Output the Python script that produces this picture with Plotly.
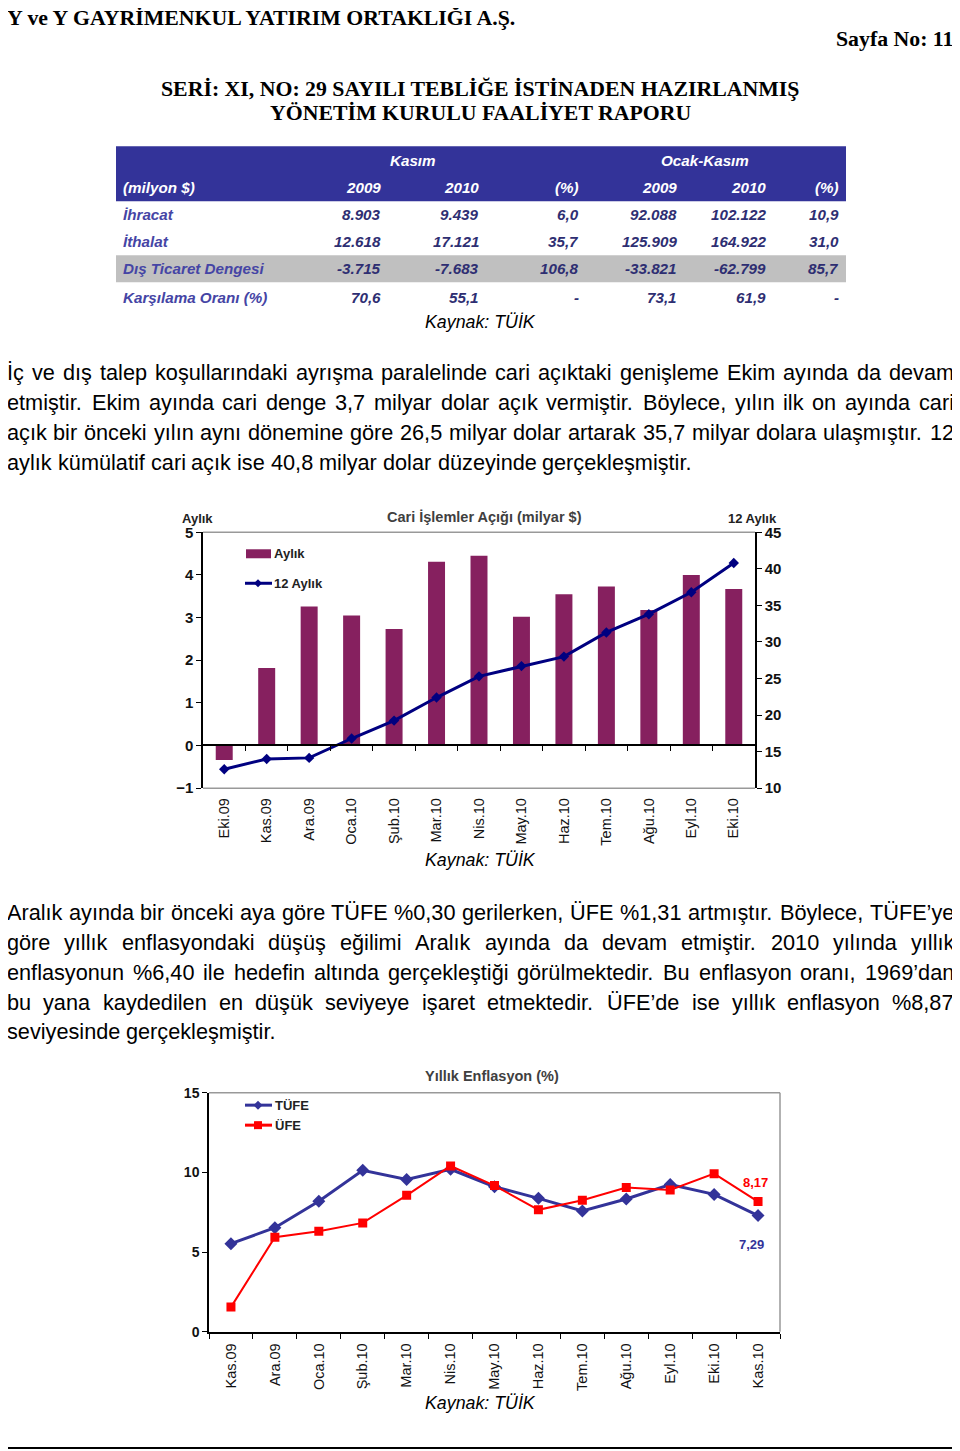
import plotly.graph_objects as go

# The page body adds an 8px margin; the photographed page also shows a slight vertical
# compression, so page pixels are mapped through a small correction.
OFF = 8
W, H = 960 - OFF, 1451
VA, VB = 8.7, 0.9885


def px(x):
    return (x - OFF) / W


def py(y):
    return 1 - ((y - VA) / VB - OFF) / H


SANS = "Liberation Sans, Arial, sans-serif"
SERIF = "Liberation Serif, Times New Roman, serif"

# ---------------- data ----------------
# trade table
table_groups = ["Kasım", "Ocak-Kasım"]
table_cols = ["2009", "2010", "(%)", "2009", "2010", "(%)"]
table_row_labels = ["İhracat", "İthalat", "Dış Ticaret Dengesi", "Karşılama Oranı (%)"]
row_ihracat = ["8.903", "9.439", "6,0", "92.088", "102.122", "10,9"]
row_ithalat = ["12.618", "17.121", "35,7", "125.909", "164.922", "31,0"]
row_denge = ["-3.715", "-7.683", "106,8", "-33.821", "-62.799", "85,7"]
row_karsilama = ["70,6", "55,1", "-", "73,1", "61,9", "-"]

# current account chart
ca_months = ["Eki.09", "Kas.09", "Ara.09", "Oca.10", "Şub.10", "Mar.10", "Nis.10",
             "May.10", "Haz.10", "Tem.10", "Ağu.10", "Eyl.10", "Eki.10"]
ca_monthly = [-0.34, 1.82, 3.26, 3.05, 2.73, 4.31, 4.45, 3.02, 3.55, 3.73, 3.18, 4.00, 3.67]
ca_12m = [12.6, 14.0, 14.15, 16.8, 19.25, 22.4, 25.3, 26.7, 28.0, 31.3, 33.8, 36.8, 40.8]

# inflation chart
inf_months = ["Kas.09", "Ara.09", "Oca.10", "Şub.10", "Mar.10", "Nis.10", "May.10",
              "Haz.10", "Tem.10", "Ağu.10", "Eyl.10", "Eki.10", "Kas.10"]
tufe = [5.53, 6.53, 8.19, 10.13, 9.56, 10.19, 9.10, 8.37, 7.58, 8.33, 9.24, 8.62, 7.29]
ufe = [1.55, 5.93, 6.31, 6.83, 8.56, 10.40, 9.17, 7.65, 8.25, 9.05, 8.90, 9.92, 8.17]

para1 = [
    "İç ve dış talep koşullarındaki ayrışma paralelinde cari açıktaki genişleme Ekim ayında da devam",
    "etmiştir. Ekim ayında cari denge 3,7 milyar dolar açık vermiştir. Böylece, yılın ilk on ayında cari",
    "açık bir önceki yılın aynı dönemine göre 26,5 milyar dolar artarak 35,7 milyar dolara ulaşmıştır. 12",
    "aylık kümülatif cari açık ise 40,8 milyar dolar düzeyinde gerçekleşmiştir.",
]
para2 = [
    "Aralık ayında bir önceki aya göre TÜFE %0,30 gerilerken, ÜFE %1,31 artmıştır. Böylece, TÜFE’ye",
    "göre yıllık enflasyondaki düşüş eğilimi Aralık ayında da devam etmiştir. 2010 yılında yıllık",
    "enflasyonun %6,40 ile hedefin altında gerçekleştiği görülmektedir. Bu enflasyon oranı, 1969’dan",
    "bu yana kaydedilen en düşük seviyeye işaret etmektedir. ÜFE’de ise yıllık enflasyon %8,87",
    "seviyesinde gerçekleşmiştir.",
]

BAR = "#86205F"
NAVY = "#000080"
BLUE2 = "#333399"
RED = "#FF0000"
TBLUE = "#333399"

# ---------------- figure ----------------
fig = go.Figure()

fig.add_trace(go.Bar(x=ca_months, y=ca_monthly, xaxis="x", yaxis="y", width=0.4,
                     marker=dict(color=BAR, line=dict(width=0)), name="Aylık",
                     showlegend=False, hoverinfo="skip"))
fig.add_trace(go.Scatter(x=ca_months, y=ca_12m, xaxis="x", yaxis="y2", mode="lines+markers",
                         line=dict(color=NAVY, width=3),
                         marker=dict(symbol="diamond", size=8, color=NAVY),
                         name="12 Aylık", showlegend=False, hoverinfo="skip"))
# invisible helper on the zero-line tick axis
fig.add_trace(go.Scatter(x=[0], y=[0], xaxis="x3", yaxis="y", mode="markers",
                         marker=dict(opacity=0), showlegend=False, hoverinfo="skip"))

fig.add_trace(go.Scatter(x=inf_months, y=tufe, xaxis="x2", yaxis="y3", mode="lines+markers",
                         line=dict(color=BLUE2, width=3),
                         marker=dict(symbol="diamond", size=10, color=BLUE2),
                         name="TÜFE", showlegend=False, hoverinfo="skip"))
fig.add_trace(go.Scatter(x=inf_months, y=ufe, xaxis="x2", yaxis="y3", mode="lines+markers",
                         line=dict(color=RED, width=2),
                         marker=dict(symbol="square", size=9, color=RED),
                         name="ÜFE", showlegend=False, hoverinfo="skip"))

# ---------------- annotations ----------------
anns = []


def ann(x, y, text, size, color="black", family=SANS, xanchor="left", yanchor="middle"):
    anns.append(dict(x=px(x), y=py(y), xref="paper", yref="paper", text=text,
                     showarrow=False, xanchor=xanchor, yanchor=yanchor,
                     font=dict(family=family, size=size, color=color)))


# header
ann(5, 18, "<b>Y ve Y GAYRİMENKUL YATIRIM ORTAKLIĞI A.Ş.</b>", 21.8, family=SERIF)
ann(955, 39, "<b>Sayfa No: 11</b>", 21.8, family=SERIF, xanchor="right")
ann(480, 89, "<b>SERİ: XI, NO: 29 SAYILI TEBLİĞE İSTİNADEN HAZIRLANMIŞ</b>", 21.8,
    family=SERIF, xanchor="center")
ann(480, 113, "<b>YÖNETİM KURULU FAALİYET RAPORU</b>", 21.8, family=SERIF, xanchor="center")

# table
TF = 15.2
shapes = []
shapes.append(dict(type="rect", xref="paper", yref="paper", x0=px(116), x1=px(846),
                   y0=py(201), y1=py(146), fillcolor=TBLUE, line=dict(width=0), layer="below"))
shapes.append(dict(type="rect", xref="paper", yref="paper", x0=px(116), x1=px(846),
                   y0=py(282), y1=py(255), fillcolor="#C0C0C0", line=dict(width=0), layer="below"))
col_right = [383, 481, 581, 679, 768, 841]
group_center = [413, 705]
for g, cx in zip(table_groups, group_center):
    ann(cx, 160, f"<b><i>{g}</i></b>", TF, color="white", xanchor="center")
ann(121, 187, "<b><i>(milyon $)</i></b>", TF, color="white")
for c, rx in zip(table_cols, col_right):
    ann(rx, 187, f"<b><i>{c}</i></b>", TF, color="white", xanchor="right")
row_ys = [214, 241, 268, 297]
for lab, vals, ry in zip(table_row_labels,
                         [row_ihracat, row_ithalat, row_denge, row_karsilama], row_ys):
    ann(121, ry, f"<b><i>{lab}</i></b>", TF, color="#4545A5")
    for v, rx in zip(vals, col_right):
        ann(rx, ry, f"<b><i>{v}</i></b>", TF, color="#2E2E72", xanchor="right")
ann(480, 322, "<i>Kaynak: TÜİK</i>", 17.8, xanchor="center")

# justified body text (Arial / Liberation Sans metrics, 1/1000 em)
AW = {" ": 278, "!": 278, "%": 889, "’": 222, "'": 191, "(": 333, ")": 333, ",": 278,
      "-": 333, ".": 278, "/": 278, ":": 278, "$": 556,
      "A": 667, "B": 667, "C": 722, "D": 722, "E": 667, "F": 611, "G": 778, "H": 722,
      "I": 278, "J": 500, "K": 667, "L": 556, "M": 833, "N": 722, "O": 778, "P": 667,
      "Q": 778, "R": 722, "S": 667, "T": 611, "U": 722, "V": 667, "W": 944, "X": 667,
      "Y": 667, "Z": 611, "İ": 278, "Ü": 722, "Ö": 778, "Ç": 722, "Ş": 667, "Ğ": 778,
      "a": 556, "b": 556, "c": 500, "d": 556, "e": 556, "f": 278, "g": 556, "h": 556,
      "i": 222, "j": 222, "k": 500, "l": 222, "m": 833, "n": 556, "o": 556, "p": 556,
      "q": 556, "r": 333, "s": 500, "t": 278, "u": 556, "v": 500, "w": 722, "x": 500,
      "y": 500, "z": 500, "ı": 278, "ş": 500, "ğ": 556, "ü": 556, "ö": 556, "ç": 500}
for d in "0123456789":
    AW[d] = 556

BODY = 21.7
LEFT, RIGHT = 6, 953


def tw(s):
    return sum(AW.get(ch, 556) for ch in s) * BODY / 1000


def paragraph(lines, ys):
    for i, (line, y) in enumerate(zip(lines, ys)):
        words = line.split(" ")
        last = i == len(lines) - 1
        widths = [tw(w) for w in words]
        if last or len(words) == 1:
            gap = tw(" ")
        else:
            gap = (RIGHT - LEFT - sum(widths)) / (len(words) - 1)
        x = LEFT
        for w, wd in zip(words, widths):
            ann(x - 1, y, w, BODY)
            x += wd + gap


paragraph(para1, [372, 402, 432, 462])
paragraph(para2, [912, 942, 972, 1002, 1031])

# chart 1 texts
ann(484, 517, "<b>Cari İşlemler Açığı (milyar $)</b>", 14.5, color="#404040", xanchor="center")
ann(197, 518, "<b>Aylık</b>", 13, color="#222222", xanchor="center")
ann(752, 518, "<b>12 Aylık</b>", 13, color="#222222", xanchor="center")
ann(480, 860, "<i>Kaynak: TÜİK</i>", 17.8, xanchor="center")
# chart 1 legend
shapes.append(dict(type="rect", xref="paper", yref="paper", x0=px(246), x1=px(271),
                   y0=py(558), y1=py(549), fillcolor=BAR, line=dict(width=0)))
ann(272, 553, "<b>Aylık</b>", 13, color="#222222")
shapes.append(dict(type="line", xref="paper", yref="paper", x0=px(245), x1=px(272),
                   y0=py(583), y1=py(583), line=dict(color=NAVY, width=3)))


def diamond(cx, cy, r, color):
    shapes.append(dict(type="path", xref="paper", yref="paper", fillcolor=color,
                       line=dict(width=0),
                       path=f"M{px(cx - r)},{py(cy)} L{px(cx)},{py(cy - r)} "
                            f"L{px(cx + r)},{py(cy)} L{px(cx)},{py(cy + r)} Z"))


diamond(258, 583, 4, NAVY)
ann(272, 583, "<b>12 Aylık</b>", 13, color="#222222")

# chart 2 texts
ann(492, 1076, "<b>Yıllık Enflasyon (%)</b>", 14.5, color="#404040", xanchor="center")
ann(480, 1403, "<i>Kaynak: TÜİK</i>", 17.8, xanchor="center")
shapes.append(dict(type="line", xref="paper", yref="paper", x0=px(245), x1=px(272),
                   y0=py(1105), y1=py(1105), line=dict(color=BLUE2, width=3)))
diamond(258, 1105, 4.5, BLUE2)
ann(273, 1105, "<b>TÜFE</b>", 13, color="#222222")
shapes.append(dict(type="line", xref="paper", yref="paper", x0=px(245), x1=px(272),
                   y0=py(1125), y1=py(1125), line=dict(color=RED, width=3)))
shapes.append(dict(type="rect", xref="paper", yref="paper", x0=px(254), x1=px(262),
                   y0=py(1129), y1=py(1121), fillcolor=RED, line=dict(width=0)))
ann(273, 1125, "<b>ÜFE</b>", 13, color="#222222")

# end-point labels
anns.append(dict(x=inf_months[-1], y=ufe[-1], xref="x2", yref="y3",
                 text="<b>" + f"{ufe[-1]:.2f}".replace(".", ",") + "</b>",
                 showarrow=False, yshift=19, xshift=-3,
                 font=dict(family=SANS, size=13, color=RED)))
anns.append(dict(x=inf_months[-1], y=tufe[-1], xref="x2", yref="y3",
                 text="<b>" + f"{tufe[-1]:.2f}".replace(".", ",") + "</b>",
                 showarrow=False, yshift=-29, xshift=-7,
                 font=dict(family=SANS, size=13, color=BLUE2)))

# frame lines of the charts
GRAY = "#999999"
for yy in (0, 1):
    shapes.append(dict(type="line", xref="x domain", yref="y domain", x0=0, x1=1, y0=yy, y1=yy,
                       line=dict(color=GRAY, width=1.5)))
shapes.append(dict(type="line", xref="x2 domain", yref="y3 domain", x0=0, x1=1, y0=1, y1=1,
                   line=dict(color=GRAY, width=1.5)))
shapes.append(dict(type="line", xref="x2 domain", yref="y3 domain", x0=1, x1=1, y0=0, y1=1,
                   line=dict(color=GRAY, width=1.5)))
# page bottom rule
shapes.append(dict(type="line", xref="paper", yref="paper", x0=0, x1=1, y0=py(1448), y1=py(1448),
                   line=dict(color="black", width=2)))

catfont = dict(family=SANS, size=14.5, color="#111111")

fig.update_layout(
    width=W, height=H, autosize=False,
    margin=dict(l=0, r=0, t=0, b=0),
    paper_bgcolor="white", plot_bgcolor="white",
    showlegend=False,
    annotations=anns, shapes=shapes,
    xaxis=dict(domain=[px(203), px(755)], anchor="y", type="category",
               categoryorder="array", categoryarray=ca_months, range=[-0.5, 12.5],
               showline=False, ticks="", showgrid=False, zeroline=False,
               tickangle=-90, tickfont=catfont, ticklabelstandoff=6, fixedrange=True),
    xaxis3=dict(overlaying="x", anchor="free", position=py(745), range=[-0.5, 12.5],
                tickvals=[i + 0.5 for i in range(12)], ticks="outside", ticklen=5,
                tickcolor="black", showline=True, linecolor="black", linewidth=1.5,
                showticklabels=False, showgrid=False, zeroline=False),
    yaxis=dict(domain=[py(788), py(532)], anchor="x", range=[-1, 5], dtick=1,
               showline=True, linecolor="black", linewidth=1.5, ticks="outside", ticklen=5,
               tickcolor="black", showgrid=False, zeroline=False,
               tickfont=dict(family=SANS, size=15, color="#111111", weight="bold")),
    yaxis2=dict(overlaying="y", side="right", anchor="x", range=[10, 45], dtick=5,
                showline=True, linecolor="black", linewidth=1.5, ticks="outside", ticklen=5,
                tickcolor="black", showgrid=False, zeroline=False,
                tickfont=dict(family=SANS, size=15, color="#111111", weight="bold")),
    xaxis2=dict(domain=[px(209), px(780)], anchor="y3", type="category",
                categoryorder="array", categoryarray=inf_months, range=[-0.5, 12.5],
                showline=True, linecolor="black", linewidth=1.5, ticks="outside", ticklen=5,
                tickcolor="black", tickson="boundaries", showgrid=False, zeroline=False,
                tickangle=-90, tickfont=catfont, ticklabelstandoff=4),
    yaxis3=dict(domain=[py(1331.7), py(1092.5)], anchor="x2", range=[0, 15], dtick=5,
                showline=True, linecolor="black", linewidth=1.5, ticks="outside", ticklen=5,
                tickcolor="black", showgrid=False, zeroline=False,
                tickfont=dict(family=SANS, size=14, color="#111111", weight="bold")),
)

fig.write_html("out.html")
